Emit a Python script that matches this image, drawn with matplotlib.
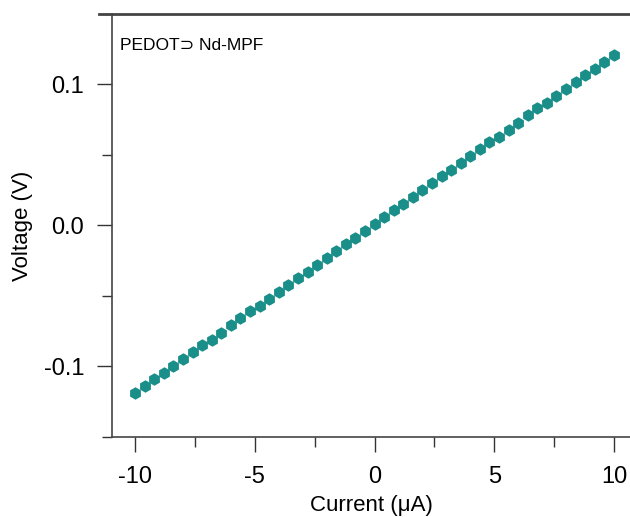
import matplotlib.pyplot as plt
from matplotlib.ticker import MultipleLocator

plt.rcParams['font.family'] = ['Liberation Sans', 'DejaVu Sans']

current = [-10.0, -9.6, -9.2, -8.8, -8.4, -8.0, -7.6, -7.2, -6.8, -6.4,
           -6.0, -5.6, -5.2, -4.8, -4.4, -4.0, -3.6, -3.2, -2.8, -2.4,
           -2.0, -1.6, -1.2, -0.8, -0.4, 0.0, 0.4, 0.8, 1.2, 1.6,
           2.0, 2.4, 2.8, 3.2, 3.6, 4.0, 4.4, 4.8, 5.2, 5.6,
           6.0, 6.4, 6.8, 7.2, 7.6, 8.0, 8.4, 8.8, 9.2, 9.6, 10.0]
voltage = [-0.119, -0.114, -0.109, -0.105, -0.100, -0.095, -0.090, -0.085, -0.081, -0.076,
           -0.071, -0.066, -0.061, -0.057, -0.052, -0.047, -0.042, -0.037, -0.033, -0.028,
           -0.023, -0.018, -0.013, -0.009, -0.004, 0.001, 0.006, 0.011, 0.015, 0.020,
           0.025, 0.030, 0.035, 0.039, 0.044, 0.049, 0.054, 0.059, 0.063, 0.068,
           0.073, 0.078, 0.083, 0.087, 0.092, 0.097, 0.102, 0.107, 0.111, 0.116, 0.121]

fig = plt.figure(figsize=(6.3, 5.17), dpi=100)
ax = fig.add_axes([0.178, 0.155, 0.822, 0.818])

ax.plot(current, voltage, 'h', color='#1a8f8a', markersize=9, markeredgewidth=0)

ax.set_xlim(-10.96, 10.67)
ax.set_ylim(-0.15, 0.15)

ax.xaxis.set_minor_locator(MultipleLocator(2.5))
ax.yaxis.set_minor_locator(MultipleLocator(0.05))
ax.set_yticks([-0.1, 0.0, 0.1])
ax.set_yticklabels(['-0.1', '0.0', '0.1'])
ax.set_xticks([-10, -5, 0, 5, 10])
ax.set_xticklabels(['-10', '-5', '0', '5', '10'])

ax.tick_params(which='major', direction='out', length=11, width=1, color='#333333',
               labelsize=17, pad=9)
ax.tick_params(which='minor', direction='out', length=7, width=1, color='#333333')
ax.tick_params(axis='x', which='major', pad=10)

for s in ['left', 'bottom', 'top']:
    ax.spines[s].set_color('#444444')
    ax.spines[s].set_linewidth(1.2)
ax.spines['top'].set_linewidth(2)
ax.spines['top'].set_bounds(-11.5, 10.67)
ax.spines['right'].set_visible(False)

ax.set_xlabel('Current (\u03bcA)', fontsize=16, labelpad=5)
ax.set_ylabel('Voltage (V)', fontsize=16, labelpad=8)

ax.text(0.015, 0.925, 'PEDOT\u2283 Nd-MPF', transform=ax.transAxes,
        fontsize=12.5, va='center', ha='left')

fig.savefig('out.png', dpi=100)
